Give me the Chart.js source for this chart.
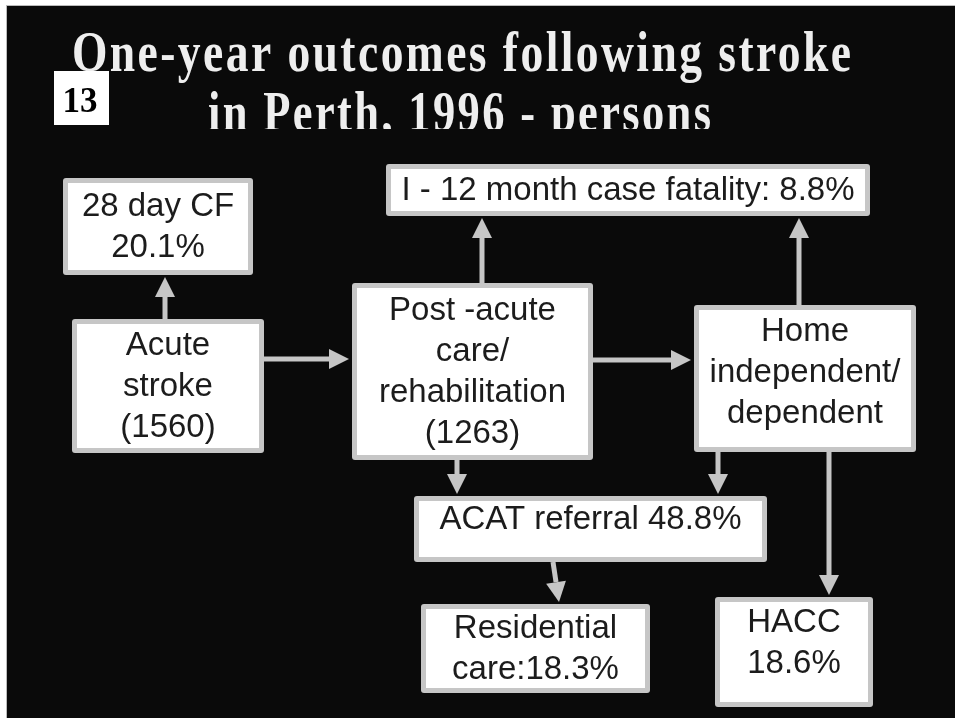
<!DOCTYPE html>
<html>
<head>
<meta charset="utf-8">
<script src="https://cdn.jsdelivr.net/npm/chart.js@4"></script>
<style>
  html, body { margin: 0; padding: 0; background: #ffffff; }
  #wrap { width: 955px; height: 718px; }
</style>
</head>
<body>
<div id="wrap"><canvas id="flow" width="955" height="718"></canvas></div>
<script>
// --- Data ---
const titleLines = ['One-year outcomes following stroke', 'in Perth, 1996 - persons'];
const slideNumber = '13';

const nodeIds = ['cf', 'acute', 'post', 'fatal', 'home', 'acat', 'resid', 'hacc'];
const caseCounts = [1560, 1263];                 // acute stroke, post-acute care
const outcomePct = [20.1, 8.8, 48.8, 18.3, 18.6]; // 28d CF, 1-12m CF, ACAT, residential, HACC
const nodeText = [
    ['28 day CF', outcomePct[0].toFixed(1) + '%'],
    ['Acute', 'stroke', '(' + caseCounts[0] + ')'],
    ['Post -acute', 'care/', 'rehabilitation', '(' + caseCounts[1] + ')'],
    ['I - 12 month case fatality: ' + outcomePct[1].toFixed(1) + '%'],
    ['Home', 'independent/', 'dependent'],
    ['ACAT referral ' + outcomePct[2].toFixed(1) + '%'],
    ['Residential', 'care:' + outcomePct[3].toFixed(1) + '%'],
    ['HACC', outcomePct[4].toFixed(1) + '%']
];
// flows: from -> to
const flowFrom = ['acute', 'acute', 'post', 'post', 'home', 'post', 'home', 'acat', 'home'];
const flowTo   = ['cf', 'post', 'fatal', 'home', 'fatal', 'acat', 'acat', 'resid', 'hacc'];

// --- Layout (slide units, same as the axis ranges) ---
const nodeBox = {
    cf:    [63, 178, 253, 275],
    acute: [72, 319, 264, 453],
    post:  [352, 283, 593, 460],
    fatal: [386, 164, 870, 216],
    home:  [694, 305, 916, 452],
    acat:  [414, 496, 767, 562],
    resid: [421, 604, 650, 693],
    hacc:  [715, 597, 873, 707]
};
const nodeTextShift = { home: -7, acat: -10, hacc: -10 };
// [start, end] position on the cross axis of each flow
const flowAnchor = [[165, 165], [359, 359], [482, 482], [360, 360], [799, 799],
                    [457, 457], [718, 718], [553, 559], [829, 829]];

const BORDER = '#c6c6c6';
const BG = '#0a0a0a';

// --- Drawing plugin ---
const flowPlugin = {
    id: 'flowPlugin',
    beforeDatasetsDraw(chart) {
        const ctx = chart.ctx;
        const sx = chart.scales.x, sy = chart.scales.y;
        const px = v => sx.getPixelForValue(v);
        const py = v => sy.getPixelForValue(v);

        // slide background
        ctx.save();
        ctx.fillStyle = '#ffffff';
        ctx.fillRect(px(0), py(0), px(955) - px(0), py(718) - py(0));
        ctx.fillStyle = '#bbbbbb';
        ctx.fillRect(px(6), py(5), px(955) - px(6), py(718) - py(5));
        ctx.fillStyle = BG;
        ctx.fillRect(px(7), py(6), px(955) - px(7), py(718) - py(6));

        // title (condensed, letter-spaced serif)
        ctx.fillStyle = '#eeeeee';
        ctx.font = 'bold 56px "Liberation Serif", "Times New Roman", serif';
        ctx.letterSpacing = '3px';
        ctx.textBaseline = 'alphabetic';
        ctx.textAlign = 'left';
        const titleSpan = [[72, 851, 71], [208, 711, 131]];
        titleLines.forEach((t, i) => {
            const [x0, x1, base] = titleSpan[i];
            const w = ctx.measureText(t).width - 3;
            ctx.save();
            if (i === 1) {
                ctx.beginPath();
                ctx.rect(0, 0, chart.width, py(129));
                ctx.clip();
            }
            ctx.translate(px(x0), py(base));
            ctx.scale((px(x1) - px(x0)) / w, 1);
            ctx.fillText(t, 0, 0);
            ctx.restore();
        });
        ctx.letterSpacing = '0px';

        // slide number
        ctx.fillStyle = '#ffffff';
        ctx.fillRect(px(54), py(71), px(109) - px(54), py(125) - py(71));
        ctx.fillStyle = '#000000';
        ctx.font = 'bold 35px "Liberation Serif", "Times New Roman", serif';
        ctx.textAlign = 'center';
        ctx.fillText(slideNumber, px(80), py(112));

        // arrows
        ctx.fillStyle = BORDER;
        ctx.strokeStyle = BORDER;
        ctx.lineWidth = 5;
        flowFrom.forEach((f, i) => {
            const a = nodeBox[f], b = nodeBox[flowTo[i]];
            const [c0, c1] = flowAnchor[i];
            let x0, y0, x1, y1;
            if (b[0] > a[2]) {            // to the right
                x0 = a[2]; x1 = b[0] - 3; y0 = c0; y1 = c1;
            } else if (b[3] < a[1]) {     // upward
                y0 = a[1]; y1 = b[3] + 2; x0 = c0; x1 = c1;
            } else {                      // downward
                y0 = a[3]; y1 = b[1] - 2; x0 = c0; x1 = c1;
            }
            drawArrow(ctx, px(x0), py(y0), px(x1), py(y1));
        });

        // boxes
        nodeIds.forEach((id, i) => {
            const [x0, y0, x1, y1] = nodeBox[id];
            const l = px(x0), t = py(y0), r = px(x1), btm = py(y1);
            ctx.fillStyle = BORDER;
            ctx.beginPath();
            ctx.roundRect(l, t, r - l, btm - t, 3);
            ctx.fill();
            ctx.fillStyle = '#ffffff';
            ctx.fillRect(l + 5, t + 5, r - l - 10, btm - t - 10);

            const lines = nodeText[i];
            const lh = 41;
            const cx = (l + r) / 2;
            const cy = (t + btm) / 2 + (nodeTextShift[id] || 0);
            ctx.fillStyle = '#1c1c1c';
            ctx.font = '33px "Liberation Sans", Arial, sans-serif';
            ctx.textAlign = 'center';
            ctx.textBaseline = 'middle';
            lines.forEach((s, k) => {
                ctx.fillText(s, cx, cy + (k - (lines.length - 1) / 2) * lh + 1);
            });
        });
        ctx.restore();
    }
};

function drawArrow(ctx, x0, y0, x1, y1) {
    const ang = Math.atan2(y1 - y0, x1 - x0);
    const head = 20, half = 10;
    const bx = x1 - Math.cos(ang) * head, by = y1 - Math.sin(ang) * head;
    ctx.beginPath();
    ctx.moveTo(x0, y0);
    ctx.lineTo(bx, by);
    ctx.stroke();
    ctx.beginPath();
    ctx.moveTo(x1, y1);
    ctx.lineTo(bx + Math.sin(ang) * half, by - Math.cos(ang) * half);
    ctx.lineTo(bx - Math.sin(ang) * half, by + Math.cos(ang) * half);
    ctx.closePath();
    ctx.fill();
}

// node centres as the chart's (invisible) points
const centres = nodeIds.map(id => {
    const b = nodeBox[id];
    return { x: (b[0] + b[2]) / 2, y: (b[1] + b[3]) / 2 };
});

new Chart(document.getElementById('flow'), {
    type: 'scatter',
    data: {
        datasets: [{ label: 'nodes', data: centres, pointRadius: 0, pointHoverRadius: 0 }]
    },
    options: {
        responsive: false,
        animation: false,
        devicePixelRatio: 1,
        layout: { padding: 0 },
        scales: {
            x: { type: 'linear', min: 0, max: 955, display: false },
            y: { type: 'linear', min: 0, max: 718, reverse: true, display: false }
        },
        plugins: { legend: { display: false }, tooltip: { enabled: false } }
    },
    plugins: [flowPlugin]
});
</script>
</body>
</html>
